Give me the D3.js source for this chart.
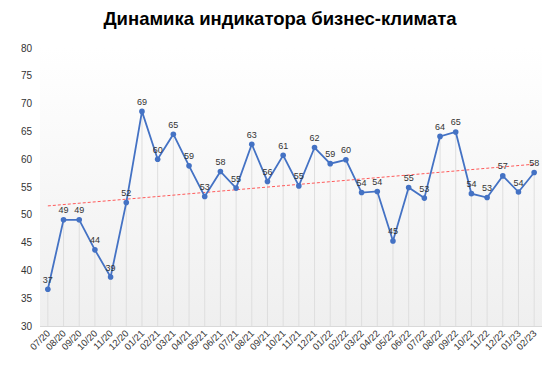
<!DOCTYPE html>
<html>
<head>
<meta charset="utf-8">
<script src="https://cdn.jsdelivr.net/npm/d3@7"></script>
<style>
  body { margin: 0; background: #fff; }
  text { font-family: "Liberation Sans", Arial, sans-serif; }
</style>
</head>
<body>
<div id="chart"></div>
<script>
var months = ["07/20","08/20","09/20","10/20","11/20","12/20",
  "01/21","02/21","03/21","04/21","05/21","06/21","07/21","08/21","09/21","10/21","11/21","12/21",
  "01/22","02/22","03/22","04/22","05/22","06/22","07/22","08/22","09/22","10/22","11/22","12/22",
  "01/23","02/23"];
var values = [36.6,49.1,49.1,43.7,38.8,52.2,
  68.6,60.0,64.5,58.8,53.3,57.8,54.8,62.7,56.0,60.7,55.2,62.1,
  59.2,59.9,54.0,54.2,45.3,54.9,53.0,64.1,64.9,53.8,53.1,57.0,
  54.1,57.6];
var trend = [51.6, 59.1];
var yTicks = [30,35,40,45,50,55,60,65,70,75,80];
var title = "Динамика индикатора бизнес-климата";

function build_chart() {
    var W = 558, H = 373;
    var left = 40, right = 542, top = 48, bottom = 326;

    var svg = d3.select("#chart")
        .append("svg")
            .attr("width", W)
            .attr("height", H);

    var defs = svg.append("defs");
    var grad = defs.append("linearGradient")
        .attr("id", "bg").attr("x1", 0).attr("y1", 0).attr("x2", 0).attr("y2", 1);
    grad.append("stop").attr("offset", "0%").attr("stop-color", "#ffffff");
    grad.append("stop").attr("offset", "100%").attr("stop-color", "#efefef");

    var x = d3.scaleBand().domain(months).range([left, right]);
    var y = d3.scaleLinear().domain([30, 80]).range([bottom, top]);
    var cx = function(m) { return x(m) + x.bandwidth() / 2; };

    svg.append("text")
        .attr("x", W / 2 + 1).attr("y", 25)
        .attr("text-anchor", "middle")
        .attr("font-size", 18.5).attr("font-weight", "bold")
        .attr("fill", "#000")
        .text(title);

    svg.append("rect")
        .attr("x", left).attr("y", top)
        .attr("width", right - left).attr("height", bottom - top)
        .attr("fill", "url(#bg)");

    // drop lines
    svg.append("g").selectAll("line")
        .data(values)
        .enter().append("line")
            .attr("x1", function(d, i) { return cx(months[i]); })
            .attr("x2", function(d, i) { return cx(months[i]); })
            .attr("y1", function(d) { return y(d); })
            .attr("y2", bottom)
            .attr("stroke", "#dedede")
            .attr("stroke-width", 1);

    svg.append("line")
        .attr("x1", left).attr("x2", right)
        .attr("y1", bottom + 0.5).attr("y2", bottom + 0.5)
        .attr("stroke", "#d9d9d9");

    // y labels
    svg.append("g").selectAll("text")
        .data(yTicks)
        .enter().append("text")
            .attr("x", 32)
            .attr("y", function(d) { return y(d) + 3.5; })
            .attr("text-anchor", "end")
            .attr("font-size", 10)
            .attr("fill", "#333")
            .text(function(d) { return d; });

    // x labels
    svg.append("g").selectAll("text")
        .data(months)
        .enter().append("text")
            .attr("transform", function(d) {
                return "translate(" + (cx(d) + 3) + "," + (bottom + 8) + ") rotate(-45)";
            })
            .attr("text-anchor", "end")
            .attr("font-size", 9.5)
            .attr("fill", "#333")
            .text(function(d) { return d; });

    // trend
    svg.append("line")
        .attr("x1", cx(months[0])).attr("y1", y(trend[0]))
        .attr("x2", cx(months[months.length - 1])).attr("y2", y(trend[1]))
        .attr("stroke", "#ff5a5a")
        .attr("stroke-width", 1)
        .attr("stroke-dasharray", "3,2");

    var line = d3.line()
        .x(function(d, i) { return cx(months[i]); })
        .y(function(d) { return y(d); });

    svg.append("path")
        .datum(values)
        .attr("d", line)
        .attr("fill", "none")
        .attr("stroke", "#4472c4")
        .attr("stroke-width", 1.8);

    svg.append("g").selectAll("circle")
        .data(values)
        .enter().append("circle")
            .attr("cx", function(d, i) { return cx(months[i]); })
            .attr("cy", function(d) { return y(d); })
            .attr("r", 2.8)
            .attr("fill", "#4472c4");

    svg.append("g").selectAll("text")
        .data(values)
        .enter().append("text")
            .attr("x", function(d, i) { return cx(months[i]); })
            .attr("y", function(d) { return y(d) - 6.5; })
            .attr("text-anchor", "middle")
            .attr("font-size", 9)
            .attr("fill", "#333")
            .text(function(d) { return Math.round(d); });
}
build_chart()
</script>
</body>
</html>
